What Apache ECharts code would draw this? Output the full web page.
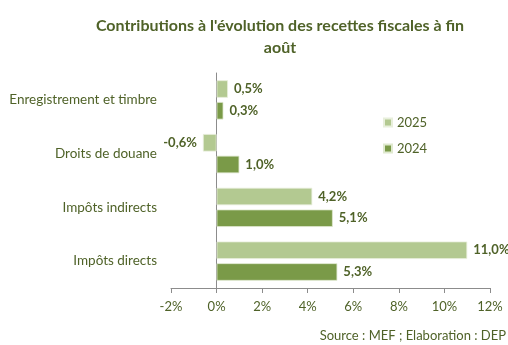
<!DOCTYPE html>
<html>
<head>
<meta charset="utf-8">
<script src="https://cdn.jsdelivr.net/npm/echarts@6/dist/echarts.min.js"></script>
<style>
  html, body { margin: 0; padding: 0; background: #fff; }
  #chart { width: 508px; height: 345px; }
</style>
</head>
<body>
<div id="chart"></div>
<script>
// Tax revenue categories (bottom to top on the category axis)
const categories = ['Impôts directs', 'Impôts indirects', 'Droits de douane', 'Enregistrement et timbre'];
// Contributions in percentage points
const values2025 = [11.0, 4.2, -0.6, 0.5];
const values2024 = [5.3, 5.1, 1.0, 0.3];
const xTicks = [-2, 0, 2, 4, 6, 8, 10, 12];

const textColor = '#4f6228';
const font = 'Lato, "Open Sans", sans-serif';

const fmt = v => v.toFixed(1).replace('.', ',') + '%';

const chart = echarts.init(document.getElementById('chart'));

function labelled(values) {
  return values.map(v => ({
    value: v,
    label: { position: v < 0 ? 'left' : 'right' }
  }));
}

const barLabel = {
  show: true, color: textColor, fontFamily: font, fontWeight: 'bold',
  fontSize: 13, distance: 6, formatter: p => fmt(p.value)
};

chart.setOption({
  animation: false,
  title: {
    text: "Contributions à l'évolution des recettes fiscales à fin\naoût",
    left: 275,
    textAlign: 'center',
    top: 10,
    textStyle: {
      color: textColor, fontFamily: font, fontWeight: 'bold',
      fontSize: 16, lineHeight: 22
    }
  },
  graphic: [{
    type: 'text',
    right: 2,
    top: 329,
    style: { text: 'Source : MEF ; Elaboration : DEP', fill: textColor, font: '13px ' + font }
  }],
  legend: {
    orient: 'vertical',
    left: 378,
    top: 111,
    itemGap: 13,
    itemWidth: 8,
    itemHeight: 8,
    icon: 'rect',
    data: ['2025', '2024'],
    textStyle: { color: textColor, fontFamily: font, fontSize: 13 }
  },
  grid: { left: 171, right: 18, top: 73, bottom: 57, outerBoundsMode: 'none', containLabel: false },
  xAxis: {
    type: 'value',
    min: xTicks[0],
    max: xTicks[xTicks.length - 1],
    interval: 2,
    splitLine: { show: false },
    axisLine: { show: true, lineStyle: { color: '#8c8c8c', width: 1 } },
    axisTick: { show: true, length: 5, inside: false, lineStyle: { color: '#8c8c8c' } },
    axisLabel: {
      color: textColor, fontFamily: font, fontSize: 13, margin: 12,
      formatter: v => v + '%'
    }
  },
  yAxis: {
    type: 'category',
    data: categories,
    axisLine: { show: true, onZero: true, lineStyle: { color: '#8c8c8c', width: 1 } },
    axisTick: { show: false },
    axisLabel: {
      color: textColor, fontFamily: font, fontSize: 13.5,
      margin: 14
    }
  },
  series: [
    {
      name: '2025',
      type: 'bar',
      data: labelled(values2025),
      barGap: '24%',
      barCategoryGap: '27%',
      itemStyle: { color: '#b3c991', borderColor: '#e8efdc', borderWidth: 0.8 },
      label: barLabel
    },
    {
      name: '2024',
      type: 'bar',
      data: labelled(values2024),
      barGap: '24%',
      barCategoryGap: '27%',
      itemStyle: { color: '#7a9a48', borderColor: '#dfe9cf', borderWidth: 0.8 },
      label: barLabel
    }
  ]
});
</script>
</body>
</html>
